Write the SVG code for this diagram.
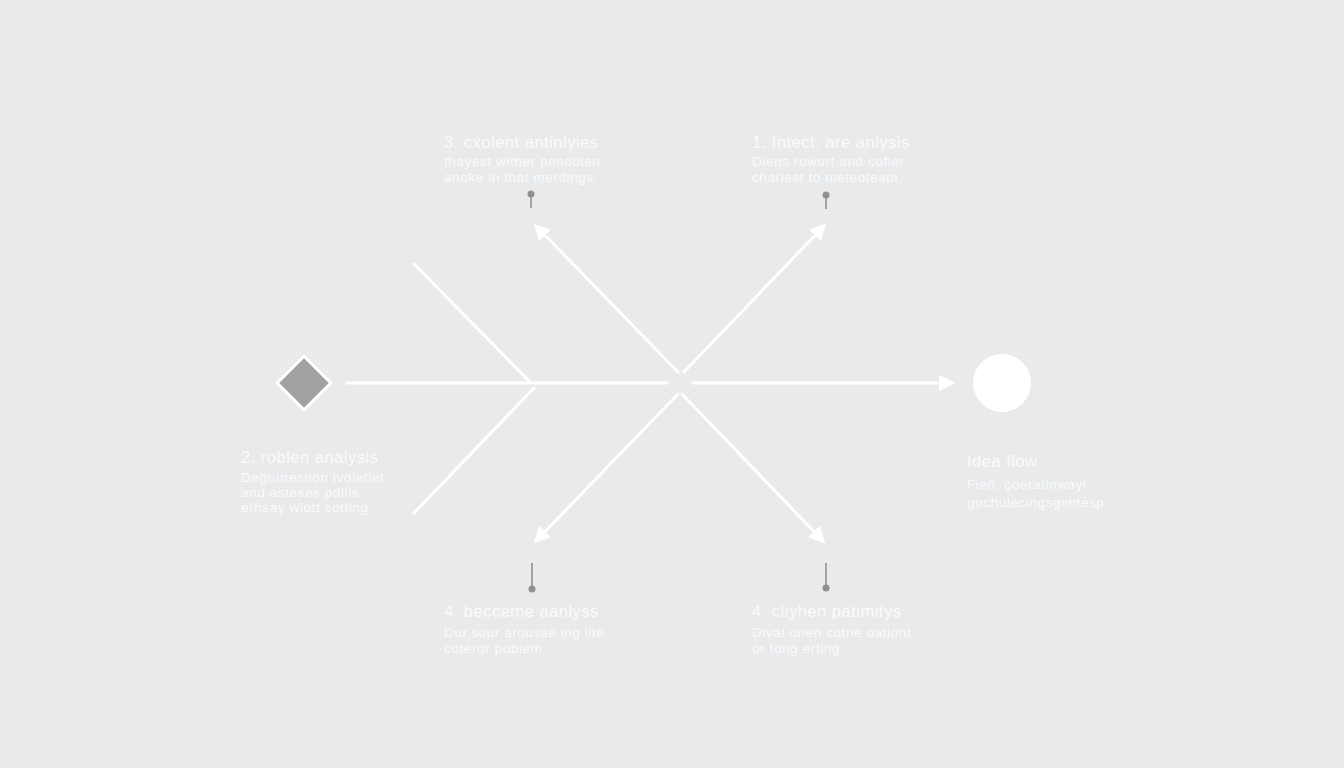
<svg xmlns="http://www.w3.org/2000/svg" width="1344" height="768" viewBox="0 0 1344 768">
<defs>
<marker id="ah" viewBox="0 0 10 10" refX="8" refY="5" markerWidth="5.5" markerHeight="5.5" orient="auto" markerUnits="strokeWidth">
<path d="M0,0 L10,5 L0,10 z" fill="#ffffff"/>
</marker>
</defs>
<style>
.ln{stroke:#ffffff;stroke-width:3;fill:none;stroke-linecap:round}
.t{font-family:"Liberation Sans",Arial,sans-serif;fill:#fbfbfb}
.h{font-size:16.5px;letter-spacing:0.5px}
.b{font-size:13.5px;letter-spacing:0.6px}
.pin{stroke:#8a8b8d;stroke-width:1.5}
.pinh{fill:#8f9092}
</style>
<rect width="1344" height="768" fill="#e9eaeb"/>
<g id="connectors">
<line class="ln" x1="347" y1="383" x2="667" y2="383"/>
<line class="ln" x1="693" y1="383" x2="952" y2="383" marker-end="url(#ah)"/>
<line class="ln" x1="414" y1="264" x2="529" y2="381"/>
<line class="ln" x1="534" y1="388" x2="414" y2="513"/>
<line class="ln" x1="678" y1="372" x2="536" y2="226" marker-end="url(#ah)"/>
<line class="ln" x1="684" y1="372" x2="824" y2="226" marker-end="url(#ah)"/>
<line class="ln" x1="678" y1="394" x2="536" y2="541" marker-end="url(#ah)"/>
<line class="ln" x1="682" y1="394" x2="823" y2="541" marker-end="url(#ah)"/>
</g>
<g id="start">
<rect x="285" y="364" width="38" height="38" transform="rotate(45 304 383)" fill="#a0a1a3" stroke="#ffffff" stroke-width="3"/>
</g>
<g id="end">
<circle cx="1002" cy="383" r="29" fill="#ffffff"/>
</g>
<g id="pins">
<line class="pin" x1="531" y1="195" x2="531" y2="208"/>
<circle class="pinh" cx="531" cy="194" r="3.5"/>
<line class="pin" x1="826" y1="195" x2="826" y2="209"/>
<circle class="pinh" cx="826" cy="195" r="3.5"/>
<line class="pin" x1="532" y1="563" x2="532" y2="588"/>
<circle class="pinh" cx="532" cy="589" r="3.5"/>
<line class="pin" x1="826" y1="563" x2="826" y2="586"/>
<circle class="pinh" cx="826" cy="588" r="3.5"/>
</g>
<g id="node-3">
<text class="t h" x="444" y="148">3. cxolent antinlyies</text>
<text class="t b" x="444" y="166">thayest wither penoblen</text>
<text class="t b" x="444" y="182">anoke in that merdings.</text>
</g>
<g id="node-1">
<text class="t h" x="752" y="148">1. Intect. are anlysis</text>
<text class="t b" x="752" y="166">Diens rowurt and cofier</text>
<text class="t b" x="752" y="182">charlest to meteoteapl.</text>
</g>
<g id="node-2">
<text class="t h" x="241" y="463">2. roblen analysis</text>
<text class="t b" x="241" y="482">Deguurestion ivoletlet</text>
<text class="t b" x="241" y="497">and asteses pdilis</text>
<text class="t b" x="241" y="512">erhsay wiott cotting.</text>
</g>
<g id="node-idea">
<text class="t h" x="967" y="467">Idea flow</text>
<text class="t b" x="967" y="489">Fieñ: çoeratinwayl</text>
<text class="t b" x="967" y="507">gochulecingsgimtesp</text>
</g>
<g id="node-4a">
<text class="t h" x="444" y="617">4. beccеme aanlyss</text>
<text class="t b" x="444" y="637">Dur.sour arousse ing lite</text>
<text class="t b" x="444" y="653">coteror pobiem</text>
</g>
<g id="node-4b">
<text class="t h" x="752" y="617">4. cliyhen patimitys</text>
<text class="t b" x="752" y="637">Dival onen cotne oationt</text>
<text class="t b" x="752" y="653">or tong erting.</text>
</g>
</svg>
